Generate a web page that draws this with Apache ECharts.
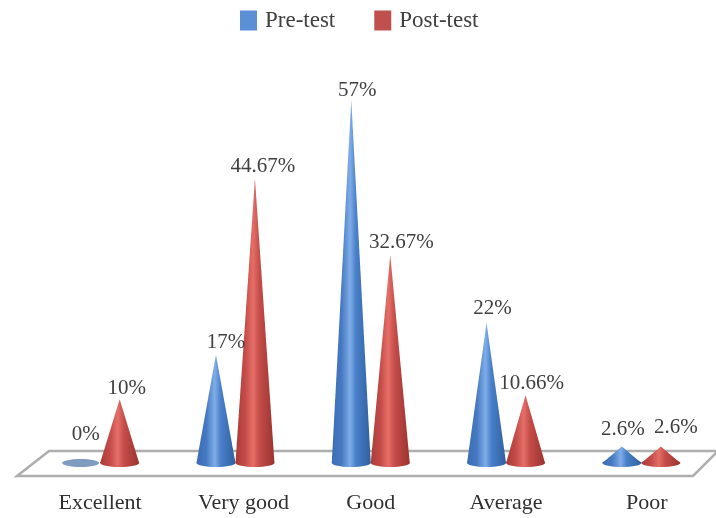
<!DOCTYPE html>
<html><head><meta charset="utf-8">
<style>html,body{margin:0;padding:0;background:#fff}#c{width:716px;height:518px}</style>
<script src="https://cdn.jsdelivr.net/npm/echarts@6/dist/echarts.min.js"></script>
</head><body><div id="c"></div>
<script>
const categories = ['Excellent','Very good','Good','Average','Poor'];
const preTest = [0,17,57,22,2.6];
const postTest = [10,44.67,32.67,10.66,2.6];
const preLabels = ['0%','17%','57%','22%','2.6%'];
const postLabels = ['10%','44.67%','32.67%','10.66%','2.6%'];

const FONT = '"Liberation Serif", serif';
const TEXT = '#404040';
const preLabelShift = [[5,-29],[10,-12],[6,-10],[6,-14],[1,-17]];
const postLabelShift = [[7,-11],[8,-12],[11,-13],[6,-12],[15,-19]];
const catShift = {'Very good':16,'Poor':11};

function grad(stops){
  return {type:'linear',x:0,y:0,x2:1,y2:0,colorStops:stops.map(c=>({offset:c[0],color:c[1]}))};
}
const blueGrad = grad([[0,'#3a6db3'],[.25,'#4679c2'],[.47,'#7fade8'],[.62,'#4a80c9'],[1,'#2f5f9f']]);
const redGrad = grad([[0,'#a83b38'],[.25,'#c44c48'],[.45,'#e56e69'],[.62,'#c44c48'],[1,'#9a3330']]);

function coneSeries(name,values,labels,shifts,color,fillGrad,side){
  return {
    name,type:'custom',coordinateSystem:'cartesian2d',clip:false,
    data:values.map((v,i)=>[i,v]),
    itemStyle:{color},
    encode:{x:0,y:1},
    renderItem(params,api){
      const i=api.value(0), v=api.value(1);
      const base=api.coord([i,0]), tip=api.coord([i,v]);
      const cx=base[0]+side*19.5, rx=19.5, ry=4;
      const fill=v===0?'#7f9cc0':fillGrad;
      const rw=v===0?rx-1:rx;
      const s=shifts[i];
      return {type:'group',children:[
        {type:'polygon',shape:{points:[[cx,tip[1]],[cx+rx,base[1]],[cx-rx,base[1]]]},style:{fill},invisible:v===0},
        {type:'ellipse',shape:{cx,cy:base[1],rx:rw,ry},style:{fill}},
        {type:'text',style:{x:cx+s[0],y:tip[1]+s[1],text:labels[i],fill:TEXT,font:'21px '+FONT,align:'center',verticalAlign:'middle'},z2:10}
      ]};
    }
  };
}

const chart=echarts.init(document.getElementById('c'),null,{renderer:'canvas'});
chart.setOption({
  animation:false,
  backgroundColor:'#fff',
  legend:{
    left:235,top:4,itemWidth:17,itemHeight:20,itemGap:39,icon:'rect',
    textStyle:{fontFamily:FONT,fontSize:23,color:TEXT,padding:[0,0,0,3]},
    data:['Pre-test','Post-test']
  },
  graphic:[{
    type:'polygon',z:-1,silent:true,
    shape:{points:[[49,451],[718,451],[693,476],[17,476]]},
    style:{fill:'#ffffff',stroke:'#aeaeae',lineWidth:2.5}
  }],
  grid:{left:32.5,width:676.5,top:81,height:382},
  xAxis:{
    type:'category',data:categories,
    axisLine:{show:false},axisTick:{show:false},
    axisLabel:{
      margin:29,interval:0,
      formatter:v=>catShift[v]?`{s${catShift[v]}|${v}}`:v,
      fontFamily:FONT,fontSize:22,color:'#303030',
      rich:{
        s16:{padding:[0,0,0,16],fontFamily:FONT,fontSize:22,color:'#303030'},
        s11:{padding:[0,0,0,11],fontFamily:FONT,fontSize:22,color:'#303030'}
      }
    }
  },
  yAxis:{type:'value',min:0,max:60,show:false},
  series:[
    coneSeries('Pre-test',preTest,preLabels,preLabelShift,'#5b8fd6',blueGrad,-1),
    coneSeries('Post-test',postTest,postLabels,postLabelShift,'#c0504d',redGrad,1)
  ]
});
</script></body></html>
